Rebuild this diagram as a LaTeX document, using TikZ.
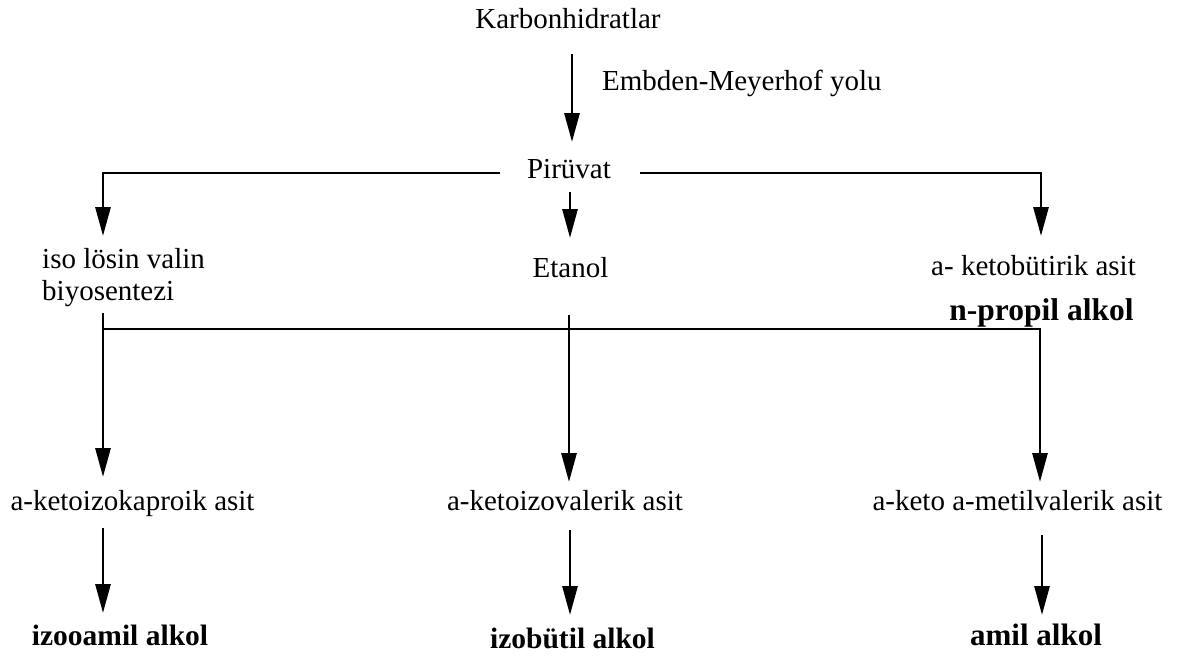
\documentclass[tikz,border=0pt]{standalone}
\usepackage{fontspec}
\setmainfont{Liberation Serif}
\usetikzlibrary{arrows.meta}
\begin{document}
\begin{tikzpicture}[x=1pt,y=-1pt,
  txt/.style={inner sep=0pt, font=\fontsize{29}{32}\selectfont},
  bld/.style={inner sep=0pt, font=\fontsize{#1}{34}\selectfont\bfseries},
  arr/.style={line width=2.9pt, -{Triangle[length=29pt,width=15pt]}}]
\useasboundingbox (0,0) rectangle (1179,657);
% texts
\node[txt, anchor=base] (karb) at (568,28) {Karbonhidratlar};
\node[txt, anchor=base west] (emb) at (602,90) {Embden-Meyerhof yolu};
\node[txt, anchor=base] (pir) at (569,178) {Pirüvat};
\node[txt, anchor=base west, align=left] (iso) at (42,300) {iso lösin valin\\biyosentezi};
\node[txt, anchor=base] (etn) at (570.5,277) {Etanol};
\node[txt, anchor=base] (keto) at (1033.5,275) {a- ketobütirik asit};
\node[bld=31.5, anchor=base] (npr) at (1041.5,320) {n-propil alkol};
\node[txt, anchor=base] (kap) at (132.5,510) {a-ketoizokaproik asit};
\node[txt, anchor=base] (val) at (565,510) {a-ketoizovalerik asit};
\node[txt, anchor=base] (met) at (1017.5,510) {a-keto a-metilvalerik asit};
\node[bld=29.5, anchor=base] (iam) at (120,645) {izooamil alkol};
\node[bld=29.5, anchor=base] (ibu) at (572.5,648) {izobütil alkol};
\node[bld=31, anchor=base] (ami) at (1036,645) {amil alkol};
% connector points
\coordinate (k0) at (572,54);   \coordinate (k1) at (572,142);
\coordinate (pl) at (500,173);  \coordinate (plc) at (103,173); \coordinate (pl1) at (103,236);
\coordinate (pm0) at (570,192); \coordinate (pm1) at (570,238);
\coordinate (pr) at (640,173);  \coordinate (prc) at (1041,173); \coordinate (pr1) at (1041,236);
\coordinate (h0) at (103,329);  \coordinate (hc) at (1040,329); \coordinate (h1) at (1040,482);
\coordinate (l0) at (103,313);  \coordinate (l1) at (103,477);
\coordinate (m0) at (569,315);  \coordinate (m1) at (569,482);
\coordinate (b10) at (103,528); \coordinate (b11) at (103,613);
\coordinate (b20) at (570,530); \coordinate (b21) at (570,615);
\coordinate (b30) at (1042,535);\coordinate (b31) at (1042,615);
% connectors
\draw[arr] (k0) -- (k1);
\draw[arr] (pl) -- (plc) -- (pl1);
\draw[arr] (pm0) -- (pm1);
\draw[arr] (pr) -- (prc) -- (pr1);
\draw[arr] (h0) -- (hc) -- (h1);
\draw[arr] (l0) -- (l1);
\draw[arr] (m0) -- (m1);
\draw[arr] (b10) -- (b11);
\draw[arr] (b20) -- (b21);
\draw[arr] (b30) -- (b31);
\end{tikzpicture}
\end{document}
